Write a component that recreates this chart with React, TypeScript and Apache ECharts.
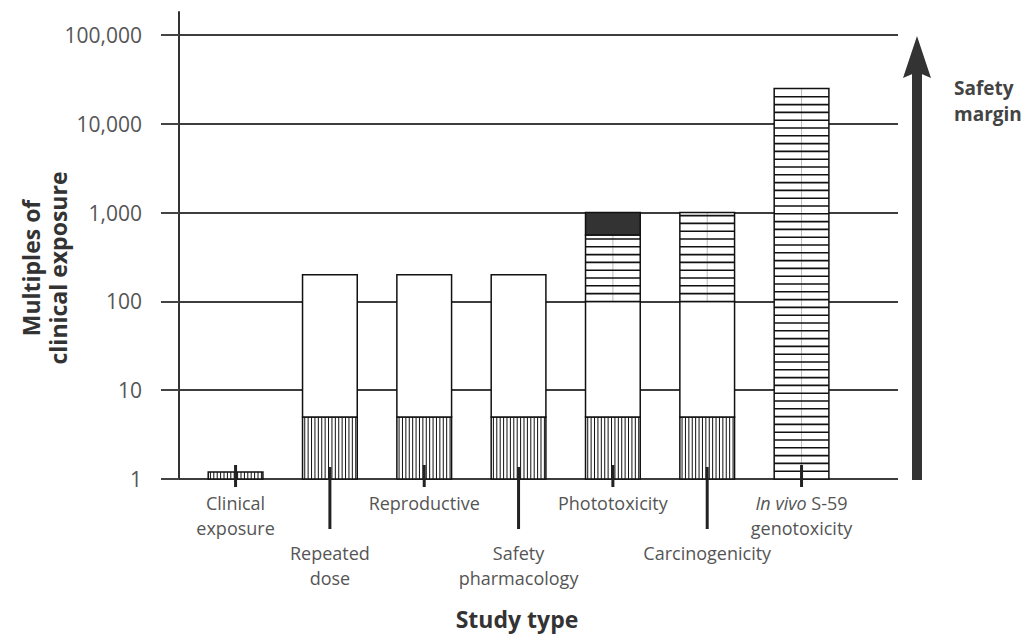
import React, { useEffect, useRef } from "react";
import * as echarts from "echarts";

// ---- data ----
const categories = [
  "Clinical\nexposure",
  "Repeated\ndose",
  "Reproductive",
  "Safety\npharmacology",
  "Phototoxicity",
  "Carcinogenicity",
  "In vivo S-59\ngenotoxicity",
];
const yTickValues = [1, 10, 100, 1000, 10000, 100000];

// vertically hatched segment (low -> high)
const verticalLow = [1, 1, 1, 1, 1, 1, null];
const verticalHigh = [1.2, 5, 5, 5, 5, 5, null];
// open (white) segment
const openLow = [null, 5, 5, 5, 5, 5, null];
const openHigh = [null, 200, 200, 200, 100, 100, null];
// horizontally hatched segment
const horizontalLow = [null, null, null, null, 100, 100, 1];
const horizontalHigh = [null, null, null, null, 560, 1000, 25000];
// solid (black) segment
const solidLow = [null, null, null, null, 560, null, null];
const solidHigh = [null, null, null, null, 1000, null, null];

const FONT = "Open Sans";

function segData(low: (number | null)[], high: (number | null)[]) {
  const out: number[][] = [];
  low.forEach((l, i) => {
    const h = high[i];
    if (l != null && h != null) out.push([i, l, h]);
  });
  return out;
}

function makeRender(kind: string) {
  return (params: any, api: any) => {
    const i = api.value(0);
    const lo = api.value(1);
    const hi = api.value(2);
    const pLo = api.coord([i, lo]);
    const pHi = api.coord([i, hi]);
    const bw = api.size([1, 0])[0] * 0.58;
    const x0 = pLo[0] - bw / 2;
    const y0 = pHi[1];
    const h = pLo[1] - pHi[1];
    const shape = { x: x0, y: y0, width: bw, height: h };
    const children: any[] = [];
    children.push({
      type: "rect",
      shape,
      style: { fill: kind === "solid" ? "#333" : "#fff", stroke: "none" },
    });
    if (kind === "vertical") {
      for (let x = x0 + 2.2; x < x0 + bw - 0.8; x += 3.4) {
        children.push({
          type: "line",
          shape: { x1: x, y1: y0, x2: x, y2: y0 + h },
          style: { stroke: "#111", lineWidth: 1 },
        });
      }
    }
    if (kind === "horizontal") {
      children.push({
        type: "line",
        shape: { x1: pLo[0], y1: y0, x2: pLo[0], y2: y0 + h },
        style: { stroke: "#bbb", lineWidth: 1 },
      });
      for (let y = y0 + h - 7.8; y > y0 + 2; y -= 7.8) {
        children.push({
          type: "line",
          shape: { x1: x0, y1: y, x2: x0 + bw, y2: y },
          style: { stroke: "#111", lineWidth: 1.6 },
        });
      }
    }
    children.push({
      type: "rect",
      shape,
      style: { fill: "none", stroke: "#111", lineWidth: 1.5 },
    });
    return { type: "group", children };
  };
}

export default function App() {
  const ref = useRef<HTMLDivElement>(null);
  useEffect(() => {
    if (!ref.current) return;
    const chart = echarts.init(ref.current, undefined, { renderer: "svg" });
    const labelStyle = {
      fontFamily: FONT,
      fontSize: 18,
      lineHeight: 24.5,
      color: "#555",
    };
    const fmt = (v: string) =>
      v.startsWith("In vivo") ? v.replace("In vivo", "{i|In vivo}") : v;
    const rich = { i: { ...labelStyle, fontStyle: "italic" } };

    chart.setOption({
      animation: false,
      backgroundColor: "#fff",
      grid: [
        { left: 179, right: 135, top: 35, bottom: 158 },
        { left: 188.4, right: 184.3, top: 35, bottom: 158 },
        { left: 179, right: 135, top: 12, bottom: 158 },
      ],
      xAxis: [
        { gridIndex: 0, type: "value", min: 0, max: 1, show: false },
        {
          gridIndex: 1,
          type: "category",
          data: categories,
          position: "bottom",
          axisLine: { show: false },
          axisTick: { show: false },
          axisLabel: {
            ...labelStyle,
            margin: 12,
            interval: (idx: number) => idx % 2 === 0,
            formatter: fmt,
            rich,
          },
        },
        {
          gridIndex: 1,
          type: "category",
          data: categories,
          position: "bottom",
          axisLine: { show: false },
          axisTick: { show: false },
          axisLabel: {
            ...labelStyle,
            margin: 62,
            interval: (idx: number) => idx % 2 === 1,
            formatter: fmt,
            rich,
          },
        },
        { gridIndex: 2, type: "value", min: 0, max: 1, show: false },
      ],
      yAxis: [
        {
          gridIndex: 0,
          type: "log",
          logBase: 10,
          min: yTickValues[0],
          max: yTickValues[yTickValues.length - 1],
          splitNumber: 5,
          offset: 11,
          axisLine: { show: false },
          axisTick: { show: true, length: 18, lineStyle: { color: "#444", width: 2 } },
          axisLabel: {
            margin: 26,
            fontFamily: FONT,
            fontSize: 21,
            color: "#555",
            formatter: (v: number) => Math.round(v).toLocaleString("en-US"),
          },
          splitLine: { show: true, lineStyle: { color: "#3d3d3d", width: 2 } },
        },
        {
          gridIndex: 1,
          type: "log",
          logBase: 10,
          min: yTickValues[0],
          max: yTickValues[yTickValues.length - 1],
          show: false,
        },
        {
          gridIndex: 2,
          type: "value",
          min: 0,
          max: 1,
          axisLine: { show: true, lineStyle: { color: "#333", width: 2 } },
          axisTick: { show: false },
          axisLabel: { show: false },
          splitLine: { show: false },
        },
      ],
      series: [
        {
          type: "custom",
          name: "Vertical",
          xAxisIndex: 1,
          yAxisIndex: 1,
          data: segData(verticalLow, verticalHigh),
          encode: { x: 0, y: [1, 2] },
          renderItem: makeRender("vertical"),
          z: 3,
        },
        {
          type: "custom",
          name: "Open",
          xAxisIndex: 1,
          yAxisIndex: 1,
          data: segData(openLow, openHigh),
          encode: { x: 0, y: [1, 2] },
          renderItem: makeRender("open"),
          z: 3,
        },
        {
          type: "custom",
          name: "Horizontal",
          xAxisIndex: 1,
          yAxisIndex: 1,
          data: segData(horizontalLow, horizontalHigh),
          encode: { x: 0, y: [1, 2] },
          renderItem: makeRender("horizontal"),
          z: 3,
        },
        {
          type: "custom",
          name: "Solid",
          xAxisIndex: 1,
          yAxisIndex: 1,
          data: segData(solidLow, solidHigh),
          encode: { x: 0, y: [1, 2] },
          renderItem: makeRender("solid"),
          z: 3,
        },
        {
          type: "custom",
          name: "Ticks",
          xAxisIndex: 1,
          yAxisIndex: 1,
          data: categories.map((_, i) => [i, yTickValues[0]]),
          encode: { x: 0, y: 1 },
          z: 5,
          renderItem: (params: any, api: any) => {
            const i = api.value(0);
            const p = api.coord([i, api.value(1)]);
            const long = i % 2 === 1;
            return {
              type: "line",
              shape: {
                x1: p[0],
                y1: p[1] - (long ? 12 : 14),
                x2: p[0],
                y2: p[1] + (long ? 50 : 8),
              },
              style: { stroke: "#222", lineWidth: 3 },
            };
          },
        },
      ],
      graphic: [
        {
          type: "text",
          x: 44,
          y: 268,
          rotation: Math.PI / 2,
          style: {
            text: "Multiples of\nclinical exposure",
            fontFamily: FONT,
            fontWeight: "bold",
            fontSize: 23,
            lineHeight: 27,
            fill: "#333",
            align: "center",
            verticalAlign: "middle",
          },
        },
        {
          type: "text",
          x: 517,
          y: 619,
          style: {
            text: "Study type",
            fontFamily: FONT,
            fontWeight: "bold",
            fontSize: 23,
            fill: "#333",
            align: "center",
            verticalAlign: "middle",
          },
        },
        {
          type: "text",
          x: 954,
          y: 101,
          style: {
            text: "Safety\nmargin",
            fontFamily: FONT,
            fontWeight: "bold",
            fontSize: 19,
            lineHeight: 26,
            fill: "#444",
            align: "left",
            verticalAlign: "middle",
          },
        },
        {
          type: "rect",
          shape: { x: 912, y: 70, width: 10, height: 410 },
          style: { fill: "#333" },
        },
        {
          type: "polygon",
          shape: {
            points: [
              [917, 36],
              [903, 78],
              [917, 72],
              [931, 78],
            ],
          },
          style: { fill: "#333" },
        },
      ],
    });
    return () => chart.dispose();
  }, []);
  return (
    <div
      ref={ref}
      style={{ position: "fixed", left: 0, top: 0, width: 1033, height: 637 }}
    />
  );
}
